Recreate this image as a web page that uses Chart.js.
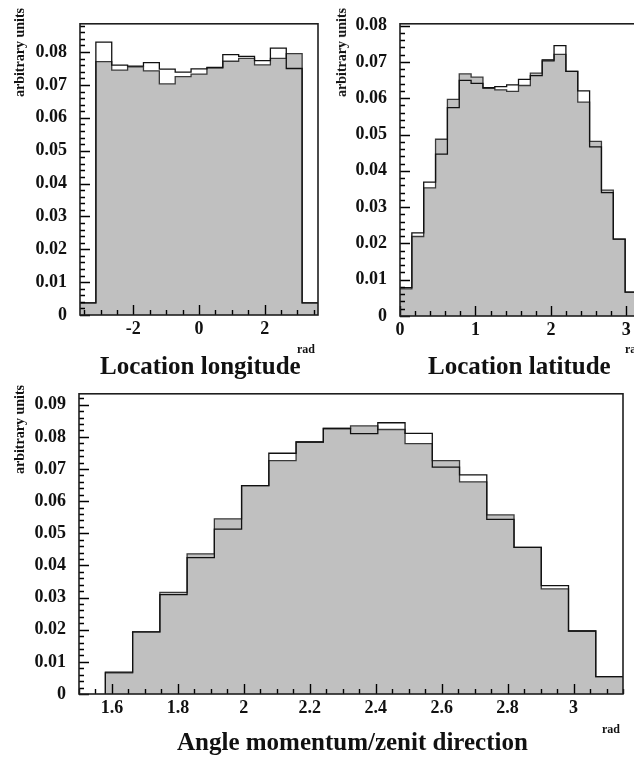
<!DOCTYPE html>
<html>
<head>
<meta charset="utf-8">
<script src="https://cdn.jsdelivr.net/npm/chart.js@4/dist/chart.umd.min.js"></script>
<style>
  body { margin: 0; width: 634px; height: 759px; overflow: hidden; background: #fff; position: relative; font-family: "Liberation Serif", serif; }
  canvas { position: absolute; }
  .lbl { position: absolute; font-weight: bold; white-space: nowrap; color: #111; }
  .ylab { position: absolute; font-weight: bold; white-space: nowrap; color: #111; font-size: 14px; line-height: 14px;
          writing-mode: vertical-rl; transform: rotate(180deg); }
</style>
</head>
<body>
<canvas id="lon" width="320" height="345" style="left:0;top:0"></canvas>
<canvas id="lat" width="320" height="346" style="left:320px;top:0"></canvas>
<canvas id="ang" width="634" height="354" style="left:0;top:370px"></canvas>

<div class="ylab" style="left:13px;top:8px">arbitrary units</div>
<div class="ylab" style="left:335px;top:8px">arbitrary units</div>
<div class="ylab" style="left:13px;top:385px">arbitrary units</div>

<div class="lbl" style="left:297px;top:343px;font-size:12px;line-height:12px">rad</div>
<div class="lbl" style="left:100px;top:353px;font-size:25px;line-height:25px">Location longitude</div>
<div class="lbl" style="left:625px;top:343px;font-size:12px;line-height:12px">rad</div>
<div class="lbl" style="left:428px;top:353px;font-size:25px;line-height:25px">Location latitude</div>
<div class="lbl" style="left:602px;top:723px;font-size:12px;line-height:12px">rad</div>
<div class="lbl" style="left:177px;top:729px;font-size:25px;line-height:25px">Angle momentum/zenit direction</div>

<script>
// longitude: 13 bins over [-pi, pi] plus one overflow bin each side
const lonWhite = [0.0037, 0.0830, 0.0760, 0.0757, 0.0768, 0.0748, 0.0739, 0.0749, 0.0753, 0.0792, 0.0787, 0.0774, 0.0812, 0.0750, 0.0037];
const lonGray  = [0.0037, 0.0771, 0.0745, 0.0755, 0.0743, 0.0703, 0.0725, 0.0733, 0.0752, 0.0772, 0.0781, 0.0761, 0.0781, 0.0795, 0.0037];
const lonTicks = [-2, 0, 2];

// latitude: 20 bins over [0, pi]
const latWhite = [0.0078, 0.0229, 0.0369, 0.0446, 0.0574, 0.0649, 0.0641, 0.0629, 0.0632, 0.0637, 0.0652, 0.0662, 0.0703, 0.0745, 0.0674, 0.0620, 0.0466, 0.0340, 0.0212, 0.0066];
const latGray  = [0.0075, 0.0219, 0.0353, 0.0487, 0.0597, 0.0667, 0.0658, 0.0627, 0.0623, 0.0619, 0.0635, 0.0669, 0.0706, 0.0721, 0.0674, 0.0589, 0.0481, 0.0347, 0.0212, 0.0066];
const latTicks = [0, 1, 2, 3];

// angle momentum / zenith: 19 bins
const angWhite = [0.0068, 0.0193, 0.0309, 0.0424, 0.0513, 0.0648, 0.0749, 0.0784, 0.0826, 0.0810, 0.0844, 0.0811, 0.0706, 0.0682, 0.0543, 0.0456, 0.0337, 0.0196, 0.0054];
const angGray  = [0.0066, 0.0193, 0.0316, 0.0436, 0.0545, 0.0648, 0.0726, 0.0784, 0.0826, 0.0834, 0.0823, 0.0779, 0.0726, 0.0660, 0.0557, 0.0456, 0.0327, 0.0196, 0.0054];
const angTicks = [1.6, 1.8, 2, 2.2, 2.4, 2.6, 2.8, 3];

const FONT = 'Liberation Serif';

function binEdges(lo, hi, n) {
  const w = (hi - lo) / n;
  const e = [];
  for (let i = 0; i <= n; i++) e.push(lo + i * w);
  return e;
}

// points for a stepped histogram outline
function stepPoints(edges, vals, closeLeft) {
  const pts = vals.map((v, i) => ({ x: edges[i], y: v }));
  pts.push({ x: edges[vals.length], y: vals[vals.length - 1] });
  if (closeLeft) pts.unshift({ x: edges[0], y: 0 });
  return pts;
}

// frame box plus inward ticks, like the old PAW plots
const frameTicks = {
  id: 'frameTicks',
  afterDraw(chart) {
    const { ctx, chartArea: a, scales: { x, y } } = chart;
    const xMinor = chart.$xMinor, yMinor = 0.002;
    ctx.save();
    ctx.strokeStyle = '#000';
    ctx.lineWidth = 1.4;
    ctx.beginPath();
    for (let i = Math.ceil(x.min / xMinor - 1e-6); i * xMinor <= x.max + 1e-9; i++) {
      const px = Math.round(x.getPixelForValue(i * xMinor)) + 0.5;
      ctx.moveTo(px, a.bottom); ctx.lineTo(px, a.bottom - 5);
    }
    x.ticks.forEach(t => {
      const px = Math.round(x.getPixelForValue(t.value)) + 0.5;
      ctx.moveTo(px, a.bottom); ctx.lineTo(px, a.bottom - 10);
    });
    for (let i = 0; i * yMinor <= y.max + 1e-9; i++) {
      const py = Math.round(y.getPixelForValue(i * yMinor)) + 0.5;
      ctx.moveTo(a.left, py); ctx.lineTo(a.left + 5, py);
    }
    y.ticks.forEach(t => {
      const py = Math.round(y.getPixelForValue(t.value)) + 0.5;
      ctx.moveTo(a.left, py); ctx.lineTo(a.left + 10, py);
    });
    ctx.stroke();
    ctx.strokeStyle = '#1e1e1e';
    ctx.lineWidth = 1.6;
    ctx.strokeRect(a.left, a.top, a.right - a.left, a.bottom - a.top);
    ctx.restore();
  }
};

function makeHist(id, o) {
  const edges = binEdges(o.lo, o.hi, o.white.length);
  const chart = new Chart(document.getElementById(id), {
    type: 'line',
    data: {
      datasets: [
        {
          data: stepPoints(edges, o.white, o.closeLeft),
          stepped: true, borderColor: '#111', borderWidth: 1.3,
          pointRadius: 0, fill: false
        },
        {
          data: stepPoints(edges, o.gray, o.closeLeft),
          stepped: true, borderColor: '#3a3a3a', borderWidth: 1.3,
          pointRadius: 0, fill: 'origin', backgroundColor: '#c0c0c0'
        }
      ]
    },
    options: {
      responsive: false,
      animation: false,
      events: [],
      layout: { padding: o.padding },
      plugins: {
        legend: { display: false },
        tooltip: { enabled: false }
      },
      scales: {
        x: {
          type: 'linear', min: o.xMin, max: o.xMax,
          grid: { display: false, drawTicks: false }, border: { display: false },
          afterBuildTicks: s => { s.ticks = o.xTicks.map(v => ({ value: v })); },
          afterFit: s => { s.height = 30; },
          ticks: {
            autoSkip: false, maxRotation: 0, padding: 4, color: '#111',
            font: { family: FONT, size: 18, weight: 'bold' },
            callback: v => String(+v.toFixed(1))
          }
        },
        y: {
          min: 0, max: o.yMax,
          grid: { display: false, drawTicks: false }, border: { display: false },
          afterFit: s => { s.width = o.yWidth; },
          ticks: {
            stepSize: 0.01, includeBounds: false, autoSkip: false, padding: 13, color: '#111',
            font: { family: FONT, size: 18, weight: 'bold' },
            callback: v => (Math.abs(v) < 1e-9 ? '0' : v.toFixed(2))
          }
        }
      }
    },
    plugins: [{ id: 'minorStep', beforeInit(c) { c.$xMinor = o.xMinor; } }, frameTicks]
  });
  return chart;
}

makeHist('lon', {
  white: lonWhite, gray: lonGray, lo: -3.625, hi: 3.625, closeLeft: false,
  xMin: -3.625, xMax: 3.625, xTicks: lonTicks, xMinor: 0.5,
  yMax: 0.0886, yWidth: 80,
  padding: { top: 5, right: 2, left: 0, bottom: 0 }
});

makeHist('lat', {
  white: latWhite, gray: latGray, lo: 0, hi: Math.PI, closeLeft: false,
  xMin: 0, xMax: Math.PI, xTicks: latTicks, xMinor: 0.2,
  yMax: 0.0805, yWidth: 80,
  padding: { top: 6, right: 3, left: 0, bottom: 0 }
});

makeHist('ang', {
  white: angWhite, gray: angGray, lo: 1.58, hi: 3.15, closeLeft: true,
  xMin: 1.5, xMax: 3.15, xTicks: angTicks, xMinor: 0.05,
  yMax: 0.0934, yWidth: 79,
  padding: { top: 14, right: 11, left: 0, bottom: 0 }
});
</script>
</body>
</html>
